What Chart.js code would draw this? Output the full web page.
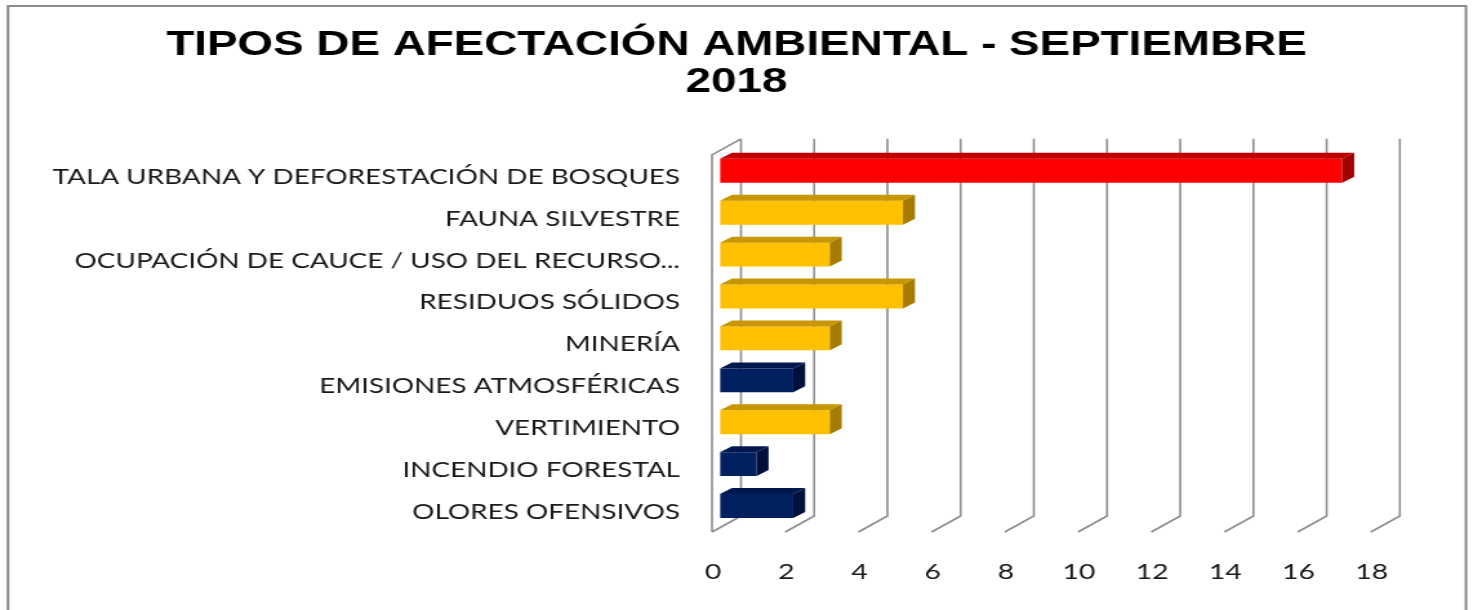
<!DOCTYPE html>
<html>
<head>
<meta charset="utf-8">
<script src="https://cdn.jsdelivr.net/npm/chart.js@4/dist/chart.umd.min.js"></script>
<style>
html, body { margin: 0; padding: 0; background: #fff; overflow: hidden; }
/* la imagen original esta estirada a lo ancho, se estira igual */
#caja { width: 1142px; height: 610px; transform: scale(1.2898, 1); transform-origin: 0 0; }
</style>
</head>
<body>
<div id="caja"><canvas id="grafico"></canvas></div>
<script>
var titulo = ['TIPOS DE AFECTACIÓN AMBIENTAL - SEPTIEMBRE', '2018'];
var categorias = [
	'TALA URBANA Y DEFORESTACIÓN DE BOSQUES',
	'FAUNA SILVESTRE',
	'OCUPACIÓN DE CAUCE / USO DEL RECURSO...',
	'RESIDUOS SÓLIDOS',
	'MINERÍA',
	'EMISIONES ATMOSFÉRICAS',
	'VERTIMIENTO',
	'INCENDIO FORESTAL',
	'OLORES OFENSIVOS'
];
var valores = [17, 5, 3, 5, 3, 2, 3, 1, 2];
var ejeMin = 0, ejeMax = 18, ejePaso = 2;

var colores     = ['#FF0000', '#FFC000', '#FFC000', '#FFC000', '#FFC000', '#002060', '#FFC000', '#002060', '#002060'];
var coloresTapa = ['#C00000', '#C79600', '#C79600', '#C79600', '#C79600', '#00184D', '#C79600', '#00184D', '#00184D'];
var coloresLado = ['#A00000', '#A67C00', '#A67C00', '#A67C00', '#A67C00', '#00103A', '#A67C00', '#00103A', '#00103A'];

// desplazamientos del efecto 3D (pared frontal / pared de fondo / grosor de barra)
var FX = -6.2, FY = 5, BX = 16.3, BY = -11;
var PX = 9.3, PY = -6;

var fondoYMarco = {
	id: 'fondoYMarco',
	beforeDraw: function(chart) {
		var ctx = chart.ctx;
		ctx.save();
		ctx.fillStyle = '#fff';
		ctx.fillRect(0, 0, chart.width, chart.height);
		ctx.strokeStyle = '#8a8a8a';
		ctx.lineWidth = 2;
		ctx.strokeRect(6.2, 6, 1136.6 - 6.2, 700);
		ctx.restore();
	}
};

var paredes = {
	id: 'paredes',
	beforeDatasetsDraw: function(chart) {
		var ctx = chart.ctx, a = chart.chartArea, sx = chart.scales.x;
		ctx.save();
		ctx.strokeStyle = '#8e8e8e';
		ctx.lineWidth = 1.6;
		ctx.beginPath();
		for (var v = ejeMin; v <= ejeMax; v += ejePaso) {
			var px = sx.getPixelForValue(v);
			ctx.moveTo(px + FX, a.bottom + FY);
			ctx.lineTo(px + BX, a.bottom + BY);
			ctx.lineTo(px + BX, a.top + BY);
		}
		var x0 = sx.getPixelForValue(ejeMin);
		ctx.moveTo(x0 + FX, a.bottom + FY);
		ctx.lineTo(x0 + FX, a.top + FY);
		ctx.lineTo(x0 + BX, a.top + BY);
		ctx.stroke();
		ctx.restore();
	}
};

var barras3d = {
	id: 'barras3d',
	afterDatasetsDraw: function(chart) {
		var ctx = chart.ctx;
		var meta = chart.getDatasetMeta(0);
		ctx.save();
		meta.data.forEach(function(bar, i) {
			var arriba = bar.y - bar.height / 2;
			var abajo = bar.y + bar.height / 2;
			// tapa
			ctx.fillStyle = coloresTapa[i];
			ctx.beginPath();
			ctx.moveTo(bar.base, arriba);
			ctx.lineTo(bar.x, arriba);
			ctx.lineTo(bar.x + PX, arriba + PY);
			ctx.lineTo(bar.base + PX, arriba + PY);
			ctx.closePath();
			ctx.fill();
			// lado
			ctx.fillStyle = coloresLado[i];
			ctx.beginPath();
			ctx.moveTo(bar.x, arriba);
			ctx.lineTo(bar.x + PX, arriba + PY);
			ctx.lineTo(bar.x + PX, abajo + PY);
			ctx.lineTo(bar.x, abajo);
			ctx.closePath();
			ctx.fill();
		});
		ctx.restore();
	}
};

var grafico = new Chart(document.getElementById('grafico'), {
	type: 'bar',
	data: {
		labels: categorias,
		datasets: [{
			data: valores,
			backgroundColor: colores,
			borderWidth: 0,
			barPercentage: 0.57,
			categoryPercentage: 1
		}]
	},
	options: {
		indexAxis: 'y',
		responsive: true,
		maintainAspectRatio: false,
		animation: false,
		layout: { padding: 0 },
		plugins: {
			legend: { display: false },
			tooltip: { enabled: false },
			title: {
				display: true,
				text: titulo,
				color: '#000',
				font: { family: '"Liberation Sans", Arial, sans-serif', size: 35.5, weight: 'bold', lineHeight: 1.04 },
				padding: { top: 26.5, bottom: 49.5 }
			}
		},
		scales: {
			x: {
				min: ejeMin,
				max: ejeMax,
				grid: { display: false, drawTicks: false },
				border: { display: false },
				ticks: {
					stepSize: ejePaso,
					padding: 32,
					labelOffset: -5.4,
					color: '#1a1a1a',
					font: { family: 'Lato, sans-serif', size: 22 }
				},
				afterFit: function(scale) { scale.height = 83; }
			},
			y: {
				grid: { display: false, drawTicks: false },
				border: { display: false },
				ticks: {
					padding: 31,
					labelOffset: 6,
					color: '#1a1a1a',
					font: { family: 'Lato, sans-serif', size: 21.6 }
				},
				afterFit: function(scale) { scale.width = 558.2; }
			},
			// eje vacio a la derecha, solo deja el margen y el titulo queda centrado
			margenDer: {
				type: 'category',
				axis: 'y',
				position: 'right',
				grid: { display: false, drawTicks: false },
				border: { display: false },
				ticks: { display: false },
				afterFit: function(scale) { scale.width = 73; }
			}
		}
	},
	plugins: [fondoYMarco, paredes, barras3d]
});
</script>
</body>
</html>
